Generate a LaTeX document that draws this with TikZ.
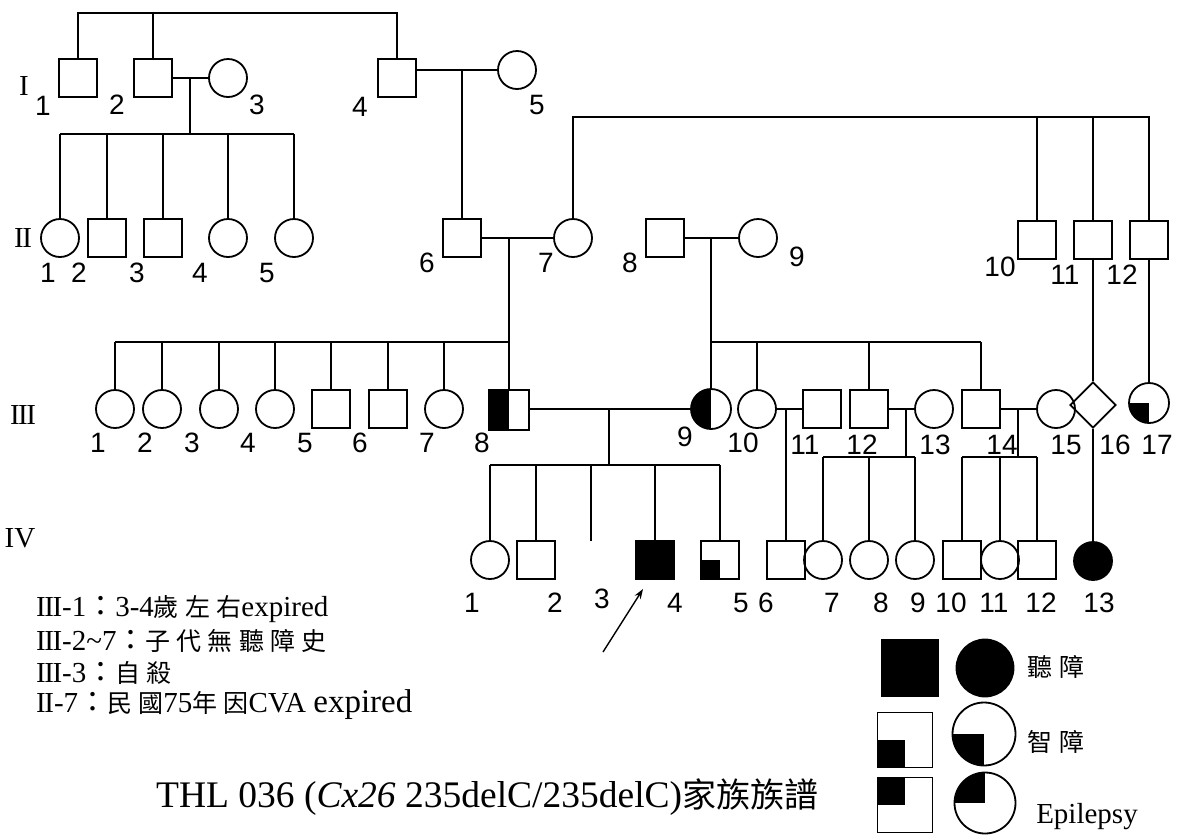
\documentclass[tikz,border=0pt]{standalone}
\usepackage{fontspec}
\setmainfont{Liberation Serif}
\newfontfamily\numfont{Liberation Sans}
\newfontfamily\cjk{Noto Sans CJK TC}
\newfontfamily\cjksp[LetterSpace=25]{Noto Sans CJK TC}
\newcommand\cjtxt[1]{{\cjksp\fontsize{25}{30}\selectfont #1}}
\newcommand\rII{I\kern-1.5ptI}
\newcommand\rIII{I\kern-1.5ptI\kern-1.5ptI}
\usetikzlibrary{shapes.geometric,arrows.meta}
\tikzset{
  ln/.style={line width=1.8pt},
  sq/.style={draw, line width=1.8pt, rectangle, minimum size=38pt, inner sep=0pt},
  ci/.style={draw, line width=1.8pt, circle, minimum size=38pt, inner sep=0pt},
  dm/.style={draw, line width=1.8pt, diamond, minimum width=46pt, minimum height=46pt, inner sep=0pt},
  halfleft/.style={path picture={\fill[black] (path picture bounding box.south west) rectangle (path picture bounding box.north);}},
  qlowleft/.style={path picture={\fill[black] (path picture bounding box.south west) rectangle (path picture bounding box.center);}},
  qupleft/.style={path picture={\fill[black] (path picture bounding box.north west) rectangle (path picture bounding box.center);}},
  num/.style={font=\numfont\fontsize{28}{28}\selectfont, inner sep=0pt},
  gen/.style={font=\fontsize{29}{29}\selectfont, inner sep=0pt},
  note/.style={font=\fontsize{29}{32}\selectfont, anchor=west, inner sep=0pt},
}
\begin{document}
\begin{tikzpicture}[x=1pt,y=-1pt]
\fill[white] (0,0) rectangle (1181,836);
\useasboundingbox (0,0) rectangle (1181,836);

% ---------- Generation I ----------
\node[sq] (I1) at (78,78) {};
\node[sq] (I2) at (153,78) {};
\node[ci] (I3) at (228,78) {};
\node[sq] (I4) at (397,78) {};
\node[ci] (I5) at (517,70) {};

% ---------- Generation II ----------
\node[ci] (II1) at (60,238) {};
\node[sq] (II2) at (107,238) {};
\node[sq] (II3) at (163,238) {};
\node[ci] (II4) at (228,238) {};
\node[ci] (II5) at (294,238) {};
\node[sq] (II6) at (462,238) {};
\node[ci] (II7) at (573,238) {};
\node[sq] (II8) at (665,238) {};
\node[ci] (II9) at (758,238) {};
\node[sq] (II10) at (1037,240) {};
\node[sq] (II11) at (1093,240) {};
\node[sq] (II12) at (1149,240) {};

% ---------- Generation III ----------
\node[ci] (III1) at (115,409) {};
\node[ci] (III2) at (162,409) {};
\node[ci] (III3) at (219,409) {};
\node[ci] (III4) at (275,409) {};
\node[sq] (III5) at (331,409) {};
\node[sq] (III6) at (388,409) {};
\node[ci] (III7) at (444,409) {};
\node[sq, minimum size=40pt, halfleft] (III8) at (509,410) {};
\node[ci, minimum size=40pt, halfleft] (III9) at (711,409) {};
\node[ci] (III10) at (757,409) {};
\node[sq] (III11) at (822,409) {};
\node[sq] (III12) at (869,409) {};
\node[ci] (III13) at (934,409) {};
\node[sq] (III14) at (981,409) {};
\node[ci] (III15) at (1056,409) {};
\node[dm] (III16) at (1093,405) {};
\node[ci, minimum size=40pt, qlowleft] (III17) at (1149,403) {};

% ---------- Generation IV ----------
\node[ci] (IV1) at (490,560) {};
\node[sq] (IV2) at (536,560) {};
\coordinate (IV3) at (591,541);
\node[sq, fill=black] (IV4) at (655,560) {};
\node[sq, qlowleft] (IV5) at (720,560) {};
\node[sq] (IV6) at (786,560) {};
\node[ci] (IV7) at (823,560) {};
\node[ci] (IV8) at (869,560) {};
\node[ci] (IV9) at (915,560) {};
\node[sq] (IV10) at (962,560) {};
\node[ci] (IV11) at (1000,560) {};
\node[sq] (IV12) at (1037,560) {};
\node[ci, fill=black] (IV13) at (1093,561) {};

% ---------- Connectors ----------
\coordinate (t1) at (0,13);
\draw[ln] (I1.north) -- (I1.north |- t1) -- (I4.north |- t1) -- (I4.north);
\draw[ln] (I2.north) -- (I2.north |- t1);
\draw[ln] (I2.east) -- (I3.west);
\coordinate (m23) at (190,78);
\coordinate (s2) at (0,134);
\draw[ln] (m23) -- (m23 |- s2);
\draw[ln] (II1.north |- s2) -- (II5.north |- s2);
\foreach \n in {II1,II2,II3,II4,II5} \draw[ln] (\n.north) -- (\n.north |- s2);
\draw[ln] (I4.east |- I5.west) -- (I5.west);
\coordinate (m45) at (462,70);
\draw[ln] (m45) -- (II6.north);

\coordinate (t2) at (0,117);
\draw[ln] (II7.north) -- (II7.north |- t2) -- (II12.north |- t2) -- (II12.north);
\draw[ln] (II10.north) -- (II10.north |- t2);
\draw[ln] (II11.north) -- (II11.north |- t2);

\draw[ln] (II6.east) -- (II7.west);
\coordinate (m67) at (509,238);
\coordinate (s3) at (0,342);
\draw[ln] (m67) -- (III8.north);
\draw[ln] (III1.north |- s3) -- (m67 |- s3);
\foreach \n in {III1,III2,III3,III4,III5,III6,III7} \draw[ln] (\n.north) -- (\n.north |- s3);

\draw[ln] (II8.east) -- (II9.west);
\coordinate (m89) at (711,238);
\draw[ln] (m89) -- (III9.north);
\draw[ln] (III9.north |- s3) -- (III14.north |- s3);
\foreach \n in {III10,III12,III14} \draw[ln] (\n.north) -- (\n.north |- s3);

\draw[ln] (II11.south) -- (III16.north);
\draw[ln] (III16.south) -- (IV13.north);
\draw[ln] (II12.south) -- (III17.north);

\draw[ln] (III8.east |- III9.west) -- (III9.west);
\coordinate (m89b) at (609,409);
\coordinate (s4a) at (0,465);
\draw[ln] (m89b) -- (m89b |- s4a);
\draw[ln] (IV1.north |- s4a) -- (IV5.north |- s4a);
\foreach \n in {IV1,IV2,IV4,IV5} \draw[ln] (\n.north) -- (\n.north |- s4a);
\draw[ln] (IV3) -- (IV3 |- s4a);

\draw[ln] (III10.east) -- (III11.west);
\draw[ln] (IV6.north |- III10.east) -- (IV6.north);

\draw[ln] (III12.east) -- (III13.west);
\coordinate (m1213) at (906,409);
\coordinate (s4b) at (0,457);
\draw[ln] (m1213) -- (m1213 |- s4b);
\draw[ln] (IV7.north |- s4b) -- (IV9.north |- s4b);
\foreach \n in {IV7,IV8,IV9} \draw[ln] (\n.north) -- (\n.north |- s4b);

\draw[ln] (III14.east) -- (III15.west);
\coordinate (m1415) at (1018,409);
\draw[ln] (m1415) -- (m1415 |- s4b);
\draw[ln] (IV10.north |- s4b) -- (IV12.north |- s4b);
\foreach \n in {IV10,IV11,IV12} \draw[ln] (\n.north) -- (\n.north |- s4b);

% proband arrow
\coordinate (arrtail) at (603,652);
\coordinate (arrhead) at (643,589);
\draw[line width=1.4pt, -{Stealth[length=10pt,width=7pt]}] (arrtail) -- (arrhead);

% ---------- Generation labels ----------
\node[gen] (gI) at (24,86) {I};
\node[gen] (gII) at (23,238) {\rII};
\node[gen] (gIII) at (23,415) {\rIII};
\node[gen] (gIV) at (20,538) {IV};

% ---------- Individual numbers ----------
\node[num] (lI1) at (43,106) {1};
\node[num] (lI2) at (117,105) {2};
\node[num] (lI3) at (257,105) {3};
\node[num] (lI4) at (360,107) {4};
\node[num] (lI5) at (537,105) {5};

\node[num] (lII1) at (48,273) {1};
\node[num] (lII2) at (79,273) {2};
\node[num] (lII3) at (137,273) {3};
\node[num] (lII4) at (200,273) {4};
\node[num] (lII5) at (267,273) {5};
\node[num] (lII6) at (427,263) {6};
\node[num] (lII7) at (546,263) {7};
\node[num] (lII8) at (630,263) {8};
\node[num] (lII9) at (797,257) {9};
\node[num] (lII10) at (1000,267) {10};
\node[num] (lII11) at (1065,275) {11};
\node[num] (lII12) at (1122,275) {12};

\node[num] (lIII1) at (98,443) {1};
\node[num] (lIII2) at (145,443) {2};
\node[num] (lIII3) at (192,443) {3};
\node[num] (lIII4) at (248,443) {4};
\node[num] (lIII5) at (305,443) {5};
\node[num] (lIII6) at (360,443) {6};
\node[num] (lIII7) at (427,443) {7};
\node[num] (lIII8) at (482,443) {8};
\node[num] (lIII9) at (685,437) {9};
\node[num] (lIII10) at (743,443) {10};
\node[num] (lIII11) at (805,445) {11};
\node[num] (lIII12) at (862,445) {12};
\node[num] (lIII13) at (935,445) {13};
\node[num] (lIII14) at (1002,445) {14};
\node[num] (lIII15) at (1066,445) {15};
\node[num] (lIII16) at (1115,445) {16};
\node[num] (lIII17) at (1157,445) {17};

\node[num] (lIV1) at (472,603) {1};
\node[num] (lIV2) at (555,603) {2};
\node[num] (lIV3) at (602,599) {3};
\node[num] (lIV4) at (675,603) {4};
\node[num] (lIV5) at (741,603) {5};
\node[num] (lIV6) at (766,603) {6};
\node[num] (lIV7) at (832,603) {7};
\node[num] (lIV8) at (881,603) {8};
\node[num] (lIV9) at (918,603) {9};
\node[num] (lIV10) at (951,603) {10};
\node[num] (lIV11) at (994,603) {11};
\node[num] (lIV12) at (1041,603) {12};
\node[num] (lIV13) at (1099,603) {13};

% ---------- Notes ----------
\node[note] (n1) at (36,609) {\rIII-1{\cjk ：}3-4\cjtxt{歲左右}expired};
\node[note] (n2) at (36,641) {\rIII-2\textasciitilde 7{\cjk ：}\cjtxt{子代無聽障史}};
\node[note] (n3) at (36,673) {\rIII-3{\cjk ：}\cjtxt{自殺}};
\node[note] (n4) at (36,705) {\rII-7{\cjk ：}\cjtxt{民國}75\cjtxt{年因}CVA {\fontsize{33}{32}\selectfont expired}};

% ---------- Title ----------
\node[font=\fontsize{37.5}{38}\selectfont, anchor=west, inner sep=0pt] (title) at (156,797)
  {THL 036 (\textit{Cx26} 235delC/235delC){\cjk\fontsize{34}{34}\selectfont 家族族譜}};

% ---------- Legend ----------
\node[sq, minimum size=56pt, fill=black] (L1s) at (910,668) {};
\node[ci, minimum size=57pt, fill=black] (L1c) at (985,668) {};
\node[sq, minimum size=55pt, qlowleft] (L2s) at (905,740) {};
\node[ci, minimum size=63pt, qlowleft] (L2c) at (984,734) {};
\node[sq, minimum size=55pt, qupleft] (L3s) at (905,805) {};
\node[ci, minimum size=61pt, qupleft] (L3c) at (985,803) {};
\node[inner sep=0pt] (Lt1) at (1056,667) {\cjtxt{聽障}};
\node[inner sep=0pt] (Lt2) at (1056,742) {\cjtxt{智障}};
\node[font=\fontsize{29}{29}\selectfont, inner sep=0pt] (Lt3) at (1087,817) {Epilepsy};
\end{tikzpicture}
\end{document}
